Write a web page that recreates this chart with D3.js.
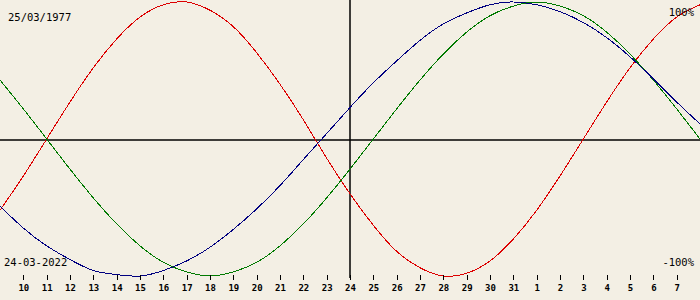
<!DOCTYPE html>
<html>
<head>
<meta charset="utf-8">
<script src="https://cdn.jsdelivr.net/npm/d3@7"></script>
<style>
  html, body { margin: 0; padding: 0; background: #f3efe4; }
  svg { display: block; }
</style>
</head>
<body>
<svg id="chart"></svg>
<script>
// one point per day, 9 March 2022 .. 8 April 2022
var days = ["09","10","11","12","13","14","15","16","17","18","19","20","21","22","23","24","25","26","27","28","29","30","31","01","02","03","04","05","06","07","08"]
var dayMonths = [3,3,3,3,3,3,3,3,3,3,3,3,3,3,3,3,3,3,3,3,3,3,3,4,4,4,4,4,4,4,4]
var tickLabels = ["10","11","12","13","14","15","16","17","18","19","20","21","22","23","24","25","26","27","28","29","30","31","1","2","3","4","5","6","7"]

var physical = [-0.52,-0.27,0.00,0.27,0.52,0.73,0.89,0.98,1.00,0.94,0.82,0.63,0.40,0.14,-0.14,-0.40,-0.63,-0.82,-0.94,-1.00,-0.98,-0.89,-0.73,-0.52,-0.27,0.00,0.27,0.52,0.73,0.89,0.98]
var emotional = [0.43,0.22,0.00,-0.22,-0.43,-0.62,-0.78,-0.90,-0.97,-1.00,-0.97,-0.90,-0.78,-0.62,-0.43,-0.22,0.00,0.22,0.43,0.62,0.78,0.90,0.97,1.00,0.97,0.90,0.78,0.62,0.43,0.22,0.00]
var intellectual = [-0.49,-0.65,-0.78,-0.88,-0.96,-0.99,-1.00,-0.96,-0.89,-0.79,-0.66,-0.51,-0.34,-0.15,0.04,0.23,0.41,0.57,0.72,0.84,0.92,0.98,1.00,0.98,0.93,0.85,0.74,0.60,0.44,0.27,0.11]

var birthLabel = "25/03/1977"
var todayLabel = "24-03-2022"

var dimensions = {
  width: 700,
  height: 300,
  plotTop: 2,
  plotBottom: 276
}

var svg = d3.select("#chart")
  .attr("width", dimensions.width)
  .attr("height", dimensions.height)

svg.append("rect")
  .attr("width", dimensions.width)
  .attr("height", dimensions.height)
  .attr("fill", "#f3efe4")

var dates = days.map((d, i) => new Date(Date.UTC(2022, dayMonths[i] - 1, +d)))

var xScale = d3.scaleUtc()
  .domain(d3.extent(dates))
  .range([0, dimensions.width])

var yScale = d3.scaleLinear()
  .domain([-1, 1])
  .range([dimensions.plotBottom, dimensions.plotTop])

// reference lines: zero line and today
var today = dates[15]
svg.append("line")
  .attr("x1", 0).attr("x2", dimensions.width)
  .attr("y1", 140).attr("y2", 140)
  .attr("stroke", "#000").attr("stroke-width", 1.5)

svg.append("line")
  .attr("x1", xScale(today)).attr("x2", xScale(today))
  .attr("y1", 0).attr("y2", 278)
  .attr("stroke", "#000").attr("stroke-width", 1.5)

var series = [
  {values: physical, color: "#dd0000"},
  {values: emotional, color: "#007a00"},
  {values: intellectual, color: "#000080"}
]

var lineGen = d3.line()
  .x((d, i) => xScale(dates[i]))
  .y(d => yScale(d))
  .curve(d3.curveNatural)

svg.append("g")
  .selectAll("path")
  .data(series)
  .enter()
  .append("path")
  .attr("d", d => lineGen(d.values))
  .attr("fill", "none")
  .attr("stroke", d => d.color)
  .attr("stroke-width", 1)
  .attr("shape-rendering", "crispEdges")

// day axis
var tickDates = dates.slice(1, dates.length - 1)
var xAxisGen = d3.axisBottom(xScale)
  .tickValues(tickDates)
  .tickFormat((d, i) => tickLabels[i])
  .tickSize(5)
  .tickPadding(5)

var xAxis = svg.append("g")
  .attr("transform", "translate(0,275)")
  .call(xAxisGen)

xAxis.select(".domain").remove()
xAxis.selectAll("line").attr("stroke", "#000").attr("shape-rendering", "crispEdges")
xAxis.selectAll("text")
  .attr("fill", "#000")
  .style("font-family", "DejaVu Sans Mono")
  .style("font-size", "9px")
  .style("font-weight", "bold")

var labelStyle = sel => sel
  .style("font-family", "DejaVu Sans Mono")
  .style("font-size", "10.5px")
  .attr("fill", "#000")

svg.append("text").attr("x", 8).attr("y", 21).text(birthLabel).call(labelStyle)
svg.append("text").attr("x", 4).attr("y", 266).text(todayLabel).call(labelStyle)
svg.append("text").attr("x", 694).attr("y", 16).attr("text-anchor", "end").text("100%").call(labelStyle)
svg.append("text").attr("x", 694).attr("y", 266).attr("text-anchor", "end").text("-100%").call(labelStyle)
</script>
</body>
</html>
